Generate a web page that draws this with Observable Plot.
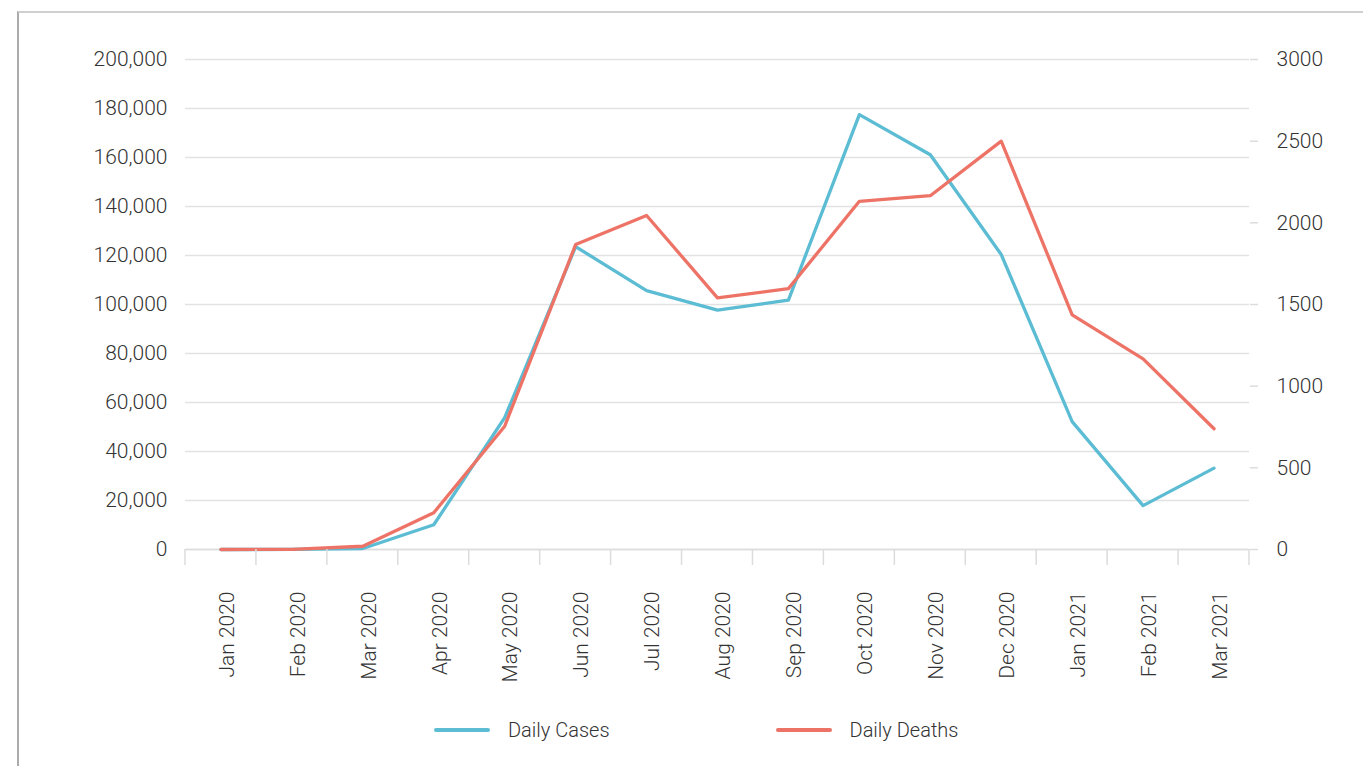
<!DOCTYPE html>
<html>
<head>
<meta charset="utf-8">
<script src="https://cdn.jsdelivr.net/npm/d3@7"></script>
<script src="https://cdn.jsdelivr.net/npm/@observablehq/plot@0.6"></script>
<style>
  html, body { margin: 0; padding: 0; background: #fff; }
  #wrap { position: relative; width: 1363px; height: 766px; overflow: hidden; font-family: Roboto, "Noto Sans", sans-serif; font-weight: 300; color: #333; }
  #frame { position: absolute; left: 17px; top: 11px; right: -4px; bottom: -4px; border-top: 2px solid #cfcfcf; border-left: 2px solid #ababab; pointer-events: none; }
  #chart { position: absolute; left: 0; top: 0; }
  #legend { position: absolute; top: 716px; left: 434px; display: flex; align-items: center; font-size: 20px; height: 28px; }
  .item { display: flex; align-items: center; }
  .swatch { width: 56px; height: 4px; border-radius: 2px; margin-right: 18px; }
  .item + .item { margin-left: 166px; }
</style>
</head>
<body>
<div id="wrap">
  <div id="frame"></div>
  <div id="chart"></div>
  <div id="legend"></div>
</div>
<script>
// Monthly averages, US
const months = ["Jan 2020", "Feb 2020", "Mar 2020", "Apr 2020", "May 2020", "Jun 2020", "Jul 2020",
  "Aug 2020", "Sep 2020", "Oct 2020", "Nov 2020", "Dec 2020", "Jan 2021", "Feb 2021", "Mar 2021"];
const dailyCases = [0, 15, 400, 10100, 53800, 123600, 105700, 97700, 101800, 177500, 161100, 120400, 52200, 17900, 33200];
const dailyDeaths = [0, 1, 20, 225, 755, 1867, 2045, 1541, 1597, 2132, 2166, 2500, 1437, 1167, 739];

const casesTicks = [0, 20000, 40000, 60000, 80000, 100000, 120000, 140000, 160000, 180000, 200000];
const deathsTicks = [0, 500, 1000, 1500, 2000, 2500, 3000];
const casesMax = 200000;
const deathsMax = 3000;

const seriesNames = ["Daily Cases", "Daily Deaths"];
const seriesColors = ["#5bbcd3", "#ee7367"];

// deaths share the left scale, rescaled so 3000 deaths sits at 200,000 cases
const toCases = d => d * casesMax / deathsMax;
const toDeaths = v => String(Math.round(v * deathsMax / casesMax));

const casesRows = months.map((m, i) => ({month: m, value: dailyCases[i]}));
const deathsRows = months.map((m, i) => ({month: m, value: toCases(dailyDeaths[i])}));

const plot = Plot.plot({
  width: 1363,
  height: 690,
  marginLeft: 185,
  marginRight: 114,
  marginTop: 59,
  marginBottom: 141,
  style: {fontFamily: "Roboto, 'Noto Sans', sans-serif", fontSize: "21px", fontWeight: 300, color: "#333", background: "transparent"},
  x: {type: "point", domain: months, padding: 0.5, round: false, label: null},
  y: {domain: [0, casesMax], label: null},
  marks: [
    Plot.gridY(casesTicks, {stroke: "#e2e2e2", strokeOpacity: 1, strokeWidth: 1.3}),
    Plot.ruleY([0], {stroke: "#dcdcdc", strokeWidth: 1.5}),
    Plot.axisY({ticks: casesTicks, tickSize: 0, tickPadding: 18, tickFormat: d3.format(","), label: null}),
    Plot.axisY({anchor: "right", ticks: deathsTicks.map(toCases), tickSize: 8, tickPadding: 19,
      tickFormat: toDeaths, stroke: "#dcdcdc", strokeWidth: 1.5, label: null}),
    Plot.axisX({tickSize: 0, tickRotate: -90, tickPadding: 42, dx: 6, label: null}),
    Plot.line(casesRows, {x: "month", y: "value", stroke: seriesColors[0], strokeWidth: 3.3}),
    Plot.line(deathsRows, {x: "month", y: "value", stroke: seriesColors[1], strokeWidth: 3.3})
  ]
});

// tick marks at the boundaries between months, placed with the x scale
const xs = plot.scale("x");
const step = xs.apply(months[1]) - xs.apply(months[0]);
const y0 = plot.scale("y").apply(0);
const bounds = months.map(m => xs.apply(m) - step / 2).concat([xs.apply(months[months.length - 1]) + step / 2]);
d3.select(plot).append("g")
  .attr("stroke", "#dcdcdc").attr("stroke-width", 1.5)
  .selectAll("line").data(bounds).join("line")
  .attr("x1", d => d).attr("x2", d => d)
  .attr("y1", y0).attr("y2", y0 + 16);

document.getElementById("chart").appendChild(plot);

const legend = d3.select("#legend");
seriesNames.forEach((name, i) => {
  const item = legend.append("div").attr("class", "item");
  item.append("div").attr("class", "swatch").style("background", seriesColors[i]);
  item.append("span").text(name);
});
</script>
</body>
</html>
